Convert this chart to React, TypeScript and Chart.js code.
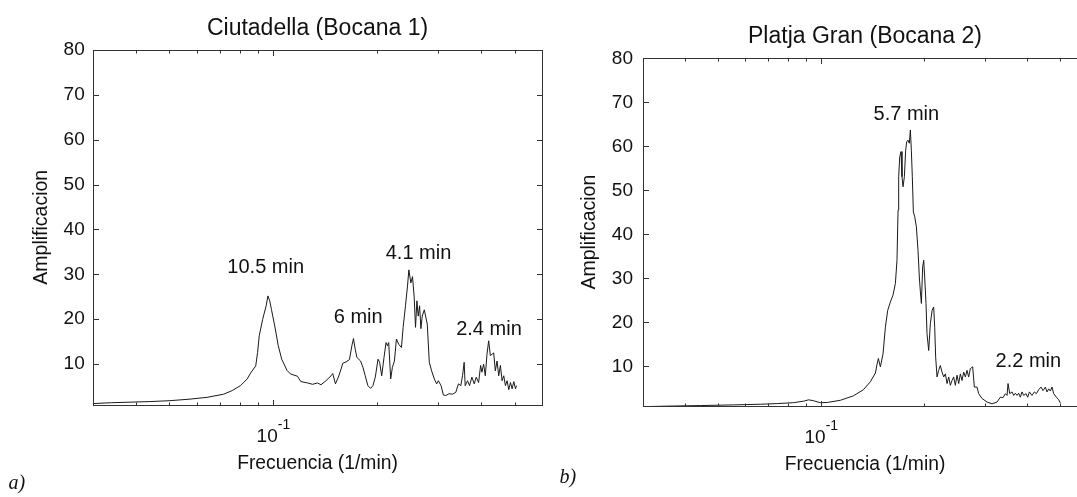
import { useEffect, useRef } from "react";
import { Chart, registerables } from "chart.js";

Chart.register(...registerables);

// ---------- data ----------
const ciutadellaFreq = [
  0.03, 0.034, 0.0439, 0.0502, 0.0574, 0.0643, 0.0718, 0.076, 0.0803, 0.084,
  0.0859, 0.0889, 0.09, 0.091, 0.0931, 0.0953, 0.0964, 0.0976, 0.0987, 0.1009,
  0.1033, 0.1057, 0.1095, 0.1121, 0.1174, 0.1201, 0.1256, 0.1298, 0.1343, 0.1373,
  0.142, 0.1468, 0.1485, 0.1512, 0.1542, 0.157, 0.1588, 0.1624, 0.166, 0.1687,
  0.1705, 0.1725, 0.1744, 0.1787, 0.1816, 0.1844, 0.1877, 0.1911, 0.1941, 0.1972,
  0.2008, 0.203, 0.2058, 0.209, 0.2118, 0.2137, 0.2156, 0.2185, 0.221, 0.224,
  0.227, 0.2306, 0.2347, 0.2374, 0.2411, 0.2444, 0.2466, 0.2499, 0.2527, 0.2556,
  0.2578, 0.2602, 0.2625, 0.2649, 0.2672, 0.2696, 0.2733, 0.2757, 0.2788, 0.2826,
  0.287, 0.2922, 0.2968, 0.3002, 0.3056, 0.3104, 0.3153, 0.3224, 0.3297, 0.3371,
  0.3432, 0.3486, 0.3526, 0.3565, 0.3589, 0.3646, 0.3695, 0.3753, 0.3812, 0.3864,
  0.3925, 0.3978, 0.4013, 0.4058, 0.4104, 0.415, 0.4197, 0.4244, 0.4292, 0.434,
  0.4388, 0.4438, 0.4488, 0.4538, 0.4589, 0.4641, 0.4693, 0.4745, 0.4799, 0.4853,
  0.4907, 0.4962, 0.5018, 0.5052,
];
const ciutadellaAmp = [
  1.2, 1.4, 1.65, 1.85, 2.2, 2.6, 3.3, 4.1, 5.2, 6.7,
  8.0, 9.6, 12.6, 16.3, 20.0, 23.0, 25.2, 24.1, 22.2, 18.5,
  14.1, 11.1, 8.6, 7.8, 7.3, 6.1, 5.8, 5.5, 5.8, 5.4,
  6.3, 7.4, 7.9, 5.6, 7.1, 8.9, 10.2, 10.5, 11.0, 14.1,
  15.7, 13.3, 11.5, 10.7, 9.3, 7.4, 5.2, 4.6, 5.2, 7.1,
  11.1, 10.4, 7.4, 11.5, 14.8, 14.1, 14.8, 6.7, 9.3, 10.7,
  15.6, 14.4, 13.7, 18.2, 23.0, 27.4, 31.0, 28.1, 29.5, 24.8,
  18.2, 24.1, 20.7, 23.0, 17.9, 20.7, 22.1, 20.7, 18.9, 10.4,
  8.5, 6.7, 5.6, 6.3, 5.2, 3.1, 3.0, 3.4, 3.3, 3.7,
  5.6, 5.2, 7.4, 10.4, 5.2, 6.3, 5.2, 7.1, 5.6, 7.1,
  5.9, 9.7, 8.2, 10.0, 7.4, 12.2, 15.2, 11.9, 12.2, 12.5,
  8.5, 10.7, 7.4, 9.7, 6.3, 7.4, 5.2, 6.3, 4.3, 5.9,
  4.5, 6.1, 4.5, 5.2,
];

const platjaFreq = [
  0.0302, 0.0342, 0.0443, 0.0553, 0.0663, 0.0744, 0.0828, 0.0888, 0.0918, 0.0948,
  0.0993, 0.1041, 0.1137, 0.124, 0.1327, 0.1391, 0.1439, 0.1455, 0.1468, 0.1488,
  0.1515, 0.1539, 0.1563, 0.1591, 0.162, 0.1646, 0.1664, 0.1676, 0.1683, 0.1695,
  0.171, 0.1721, 0.1733, 0.1749, 0.1764, 0.1776, 0.1792, 0.1808, 0.1821, 0.1833,
  0.1845, 0.1858, 0.1875, 0.1896, 0.1917, 0.1934, 0.1948, 0.1961, 0.1978, 0.1992,
  0.2005, 0.2023, 0.2037, 0.206, 0.2083, 0.2107, 0.213, 0.2145, 0.2159, 0.2179,
  0.2203, 0.2228, 0.2253, 0.2279, 0.2305, 0.2331, 0.2357, 0.2383, 0.241, 0.2437,
  0.2465, 0.2493, 0.2521, 0.2549, 0.2578, 0.2607, 0.2637, 0.2666, 0.2696, 0.2727,
  0.277, 0.2801, 0.2852, 0.2884, 0.295, 0.3051, 0.3155, 0.3263, 0.3337, 0.3398,
  0.3452, 0.3491, 0.3514, 0.3554, 0.361, 0.3651, 0.3692, 0.3734, 0.3776, 0.3818,
  0.3861, 0.3905, 0.3967, 0.4012, 0.4057, 0.413, 0.4196, 0.4253, 0.432, 0.4388,
  0.4448, 0.4518, 0.4569, 0.4621, 0.4673, 0.4726, 0.4779, 0.4866, 0.4943, 0.4998,
];
const platjaAmp = [
  0.85, 0.95, 1.1, 1.25, 1.4, 1.55, 1.75, 2.1, 2.4, 2.2,
  1.75, 1.8, 2.3, 3.3, 4.7, 6.5, 8.5, 10.5, 11.8, 9.9,
  12.9, 18.9, 22.7, 24.6, 26.2, 28.8, 34.1, 45.5, 53.1, 57.6,
  58.8, 53.1, 50.8, 53.1, 59.1, 61.0, 61.4, 60.7, 63.7, 59.1,
  53.1, 45.1, 44.0, 41.7, 36.4, 30.3, 26.9, 24.3, 32.6, 34.1,
  30.3, 24.3, 17.4, 13.6, 19.7, 22.7, 23.5, 18.9, 12.1, 7.6,
  9.1, 10.2, 8.7, 7.6, 8.3, 6.1, 7.6, 5.7, 6.8, 7.6,
  5.7, 8.0, 6.1, 8.3, 6.8, 8.7, 7.6, 9.1, 7.6, 9.5,
  9.9, 5.3, 5.3, 3.8, 2.7, 1.9, 1.5, 1.9, 3.0, 2.9,
  3.8, 3.4, 6.1, 3.8, 4.2, 3.4, 3.9, 3.4, 3.9, 3.0,
  4.2, 3.4, 3.8, 3.0, 4.2, 3.4, 4.2, 3.8, 4.7, 5.3,
  4.5, 5.3, 4.2, 4.9, 4.4, 5.3, 3.8, 3.0, 2.4, 1.7,
];

// ticks
const yTickValues = [10, 20, 30, 40, 50, 60, 70, 80];
const xMajorTicks = [0.1];
const xMinorTicks = [0.04, 0.05, 0.06, 0.07, 0.08, 0.09, 0.2, 0.3, 0.4, 0.5];
const xTickBase = "10";
const xTickExponent = "-1";

// peak annotations (text centred on these data coordinates)
const ciutadellaLabels = ["10.5 min", "6 min", "4.1 min", "2.4 min"];
const ciutadellaLabelFreq = [0.095, 0.176, 0.263, 0.4206];
const ciutadellaLabelAmp = [32.0, 20.7, 35.0, 18.0];
const platjaLabels = ["5.7 min", "2.2 min"];
const platjaLabelFreq = [0.1772, 0.403];
const platjaLabelAmp = [67.6, 11.4];

const FONT = '"Liberation Sans", Arial, Helvetica, sans-serif';
const SERIF = '"Liberation Serif", "Times New Roman", serif';
const TEXT = "#111";

type PanelCfg = {
  left: number;
  width: number;
  height: number;
  areaLeft: number;
  areaTop: number;
  areaRight: number;
  areaBottom: number;
  title: string;
  xTitle: string;
  yTitle: string;
  yTitleDx: number;
  tickPad: number;
  freq: number[];
  amp: number[];
  labels: string[];
  labelFreq: number[];
  labelAmp: number[];
  panelLabel: string;
  panelLabelX: number;
  panelLabelY: number;
};

const panels: PanelCfg[] = [
  {
    left: 0,
    width: 560,
    height: 497,
    areaLeft: 92.7,
    areaTop: 50,
    areaRight: 542.3,
    areaBottom: 404.5,
    title: "Ciutadella (Bocana 1)",
    xTitle: "Frecuencia (1/min)",
    yTitle: "Amplificacion",
    yTitleDx: -46,
    tickPad: 8,
    freq: ciutadellaFreq,
    amp: ciutadellaAmp,
    labels: ciutadellaLabels,
    labelFreq: ciutadellaLabelFreq,
    labelAmp: ciutadellaLabelAmp,
    panelLabel: "a)",
    panelLabelX: 8.6,
    panelLabelY: 489.4,
  },
  {
    left: 545,
    width: 560,
    height: 497,
    areaLeft: 97.5,
    areaTop: 58.3,
    areaRight: 542.5,
    areaBottom: 406,
    title: "Platja Gran (Bocana 2)",
    xTitle: "Frecuencia (1/min)",
    yTitle: "Amplificacion",
    yTitleDx: -48,
    tickPad: 9.5,
    freq: platjaFreq,
    amp: platjaAmp,
    labels: platjaLabels,
    labelFreq: platjaLabelFreq,
    labelAmp: platjaLabelAmp,
    panelLabel: "b)",
    panelLabelX: 14.4,
    panelLabelY: 483.4,
  },
];

function makeDecor(cfg: PanelCfg) {
  return {
    id: "decor",
    afterDraw(chart: any) {
      const { ctx, chartArea: a, scales } = chart;
      const xs = scales.x;
      const ys = scales.y;
      const L = Math.round(a.left) + 0.5;
      const R = Math.round(a.right) + 0.5;
      const T = Math.round(a.top) + 0.5;
      const B = Math.round(a.bottom) + 0.5;
      ctx.save();

      // frame
      ctx.strokeStyle = "#333";
      ctx.lineWidth = 1;
      ctx.strokeRect(L, T, R - L, B - T);

      // inward ticks
      ctx.beginPath();
      for (const v of yTickValues) {
        const py = Math.round(ys.getPixelForValue(v)) + 0.5;
        ctx.moveTo(L, py);
        ctx.lineTo(L + 5.5, py);
        ctx.moveTo(R, py);
        ctx.lineTo(R - 5.5, py);
      }
      for (const v of xMinorTicks) {
        const px = Math.round(xs.getPixelForValue(v)) + 0.5;
        ctx.moveTo(px, B);
        ctx.lineTo(px, B - 3);
        ctx.moveTo(px, T);
        ctx.lineTo(px, T + 3);
      }
      for (const v of xMajorTicks) {
        const px = Math.round(xs.getPixelForValue(v)) + 0.5;
        ctx.moveTo(px, B);
        ctx.lineTo(px, B - 5.5);
        ctx.moveTo(px, T);
        ctx.lineTo(px, T + 5.5);
      }
      ctx.stroke();

      ctx.fillStyle = TEXT;
      ctx.textBaseline = "alphabetic";

      // x major tick label 10^-1
      for (const v of xMajorTicks) {
        const px = xs.getPixelForValue(v);
        ctx.font = `19px ${FONT}`;
        const wBase = ctx.measureText(xTickBase).width;
        ctx.font = `14px ${FONT}`;
        const wExp = ctx.measureText(xTickExponent).width;
        const start = px - (wBase + wExp) / 2;
        ctx.textAlign = "left";
        ctx.font = `19px ${FONT}`;
        ctx.fillText(xTickBase, start, a.bottom + 37);
        ctx.font = `14px ${FONT}`;
        ctx.fillText(xTickExponent, start + wBase, a.bottom + 24);
      }

      const cx = (a.left + a.right) / 2;
      // title
      ctx.textAlign = "center";
      ctx.font = `23px ${FONT}`;
      ctx.fillText(cfg.title, cx, a.top - 15);

      // x title
      ctx.font = `19.3px ${FONT}`;
      ctx.fillText(cfg.xTitle, cx, a.bottom + 64);

      // y title
      ctx.save();
      ctx.translate(a.left + cfg.yTitleDx, (a.top + a.bottom) / 2);
      ctx.rotate(-Math.PI / 2);
      ctx.font = `19.5px ${FONT}`;
      ctx.textAlign = "center";
      ctx.fillText(cfg.yTitle, 0, 0);
      ctx.restore();

      // peak annotations
      ctx.font = `20px ${FONT}`;
      ctx.textAlign = "center";
      cfg.labels.forEach((t, i) => {
        const px = xs.getPixelForValue(cfg.labelFreq[i]);
        const py = ys.getPixelForValue(cfg.labelAmp[i]);
        ctx.fillText(t, px, py + 7.2);
      });

      // panel letter
      ctx.font = `italic 20px ${SERIF}`;
      ctx.textAlign = "left";
      ctx.fillText(cfg.panelLabel, cfg.panelLabelX, cfg.panelLabelY);

      ctx.restore();
    },
  };
}

function Panel({ cfg }: { cfg: PanelCfg }) {
  const ref = useRef<HTMLCanvasElement>(null);
  useEffect(() => {
    const canvas = ref.current;
    if (!canvas) return;
    const chart = new Chart(canvas, {
      type: "scatter",
      data: {
        datasets: [
          {
            data: cfg.freq.map((f, i) => ({ x: f, y: cfg.amp[i] })),
            showLine: true,
            borderColor: "#1a1a1a",
            borderWidth: 1,
            pointRadius: 0,
            pointHoverRadius: 0,
            fill: false,
            tension: 0,
          },
        ],
      },
      options: {
        animation: false,
        responsive: false,
        devicePixelRatio: 1,
        events: [],
        layout: {
          padding: {
            left: 0,
            top: cfg.areaTop,
            right: cfg.width - cfg.areaRight,
            bottom: 0,
          },
        },
        plugins: {
          legend: { display: false },
          tooltip: { enabled: false },
          title: { display: false },
        },
        scales: {
          x: {
            type: "logarithmic",
            min: 0.03,
            max: 0.6,
            grid: { display: false, drawTicks: false },
            border: { display: false },
            ticks: { display: false },
            afterFit: (s: any) => {
              s.height = cfg.height - cfg.areaBottom;
            },
          },
          y: {
            type: "linear",
            min: 1,
            max: 80,
            grid: { display: false, drawTicks: false },
            border: { display: false },
            ticks: {
              color: TEXT,
              padding: cfg.tickPad,
              font: { family: FONT, size: 19 },
            },
            afterBuildTicks: (s: any) => {
              s.ticks = yTickValues.map((v) => ({ value: v }));
            },
            afterFit: (s: any) => {
              s.width = cfg.areaLeft;
            },
          },
        },
      } as any,
      plugins: [makeDecor(cfg)],
    });
    return () => chart.destroy();
  }, [cfg]);
  return (
    <canvas
      ref={ref}
      width={cfg.width}
      height={cfg.height}
      style={{
        position: "absolute",
        left: cfg.left,
        top: 0,
        width: cfg.width,
        height: cfg.height,
      }}
    />
  );
}

export default function App() {
  return (
    <div
      style={{
        position: "fixed",
        left: 0,
        top: 0,
        width: 1077,
        height: 497,
        overflow: "hidden",
        background: "#fff",
      }}
    >
      {panels.map((p) => (
        <Panel key={p.title} cfg={p} />
      ))}
    </div>
  );
}
